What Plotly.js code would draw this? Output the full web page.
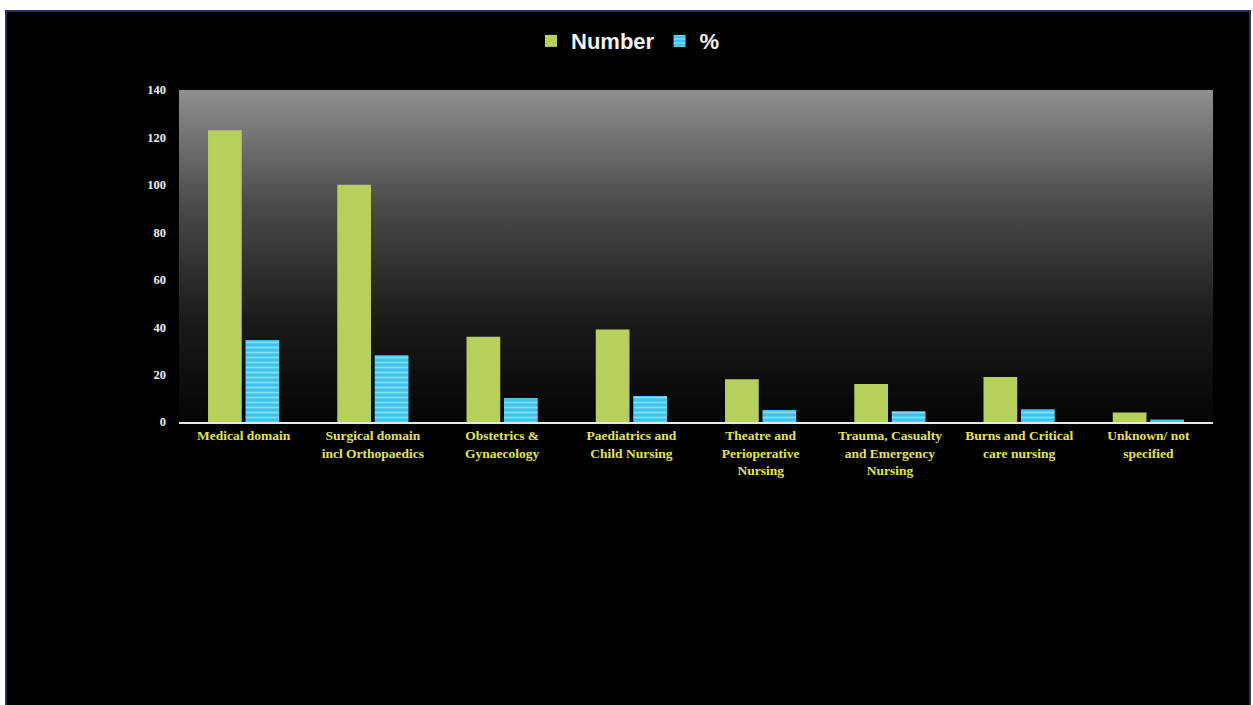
<!DOCTYPE html>
<html>
<head>
<meta charset="utf-8">
<script src="https://cdn.plot.ly/plotly-3.0.1.min.js"></script>
<style>
  html, body { margin: 0; padding: 0; background: #ffffff; width: 1253px; height: 705px; overflow: hidden; }
  #frame { position: absolute; left: 5px; top: 10px; width: 1246px; height: 695px; background: #000; box-sizing: border-box; border: 2px solid #27345e; border-bottom: none; }
  #chart { position: absolute; left: 0; top: 0; width: 1242px; height: 693px; }
</style>
</head>
<body>
<div id="frame"><div id="chart"></div></div>
<script>
const categories = [
  "Medical domain",
  "Surgical domain<br>incl Orthopaedics",
  "Obstetrics &<br>Gynaecology",
  "Paediatrics and<br>Child Nursing",
  "Theatre and<br>Perioperative<br>Nursing",
  "Trauma, Casualty<br>and Emergency<br>Nursing",
  "Burns and Critical<br>care nursing",
  "Unknown/ not<br>specified"
];
const numberValues = [123, 100, 36, 39, 18, 16, 19, 4];
const percentValues = [34.6, 28.2, 10.1, 11.0, 5.1, 4.5, 5.4, 1.1];
const yTicks = [0, 20, 40, 60, 80, 100, 120, 140];

const gradSvg = '<svg xmlns="http://www.w3.org/2000/svg" width="100" height="100" preserveAspectRatio="none">' +
  '<defs><linearGradient id="g" x1="0" y1="0" x2="0" y2="1">' +
  '<stop offset="0" stop-color="#8f8f8f"/>' +
  '<stop offset="0.35" stop-color="#4a4a4a"/>' +
  '<stop offset="0.7" stop-color="#1a1a1a"/>' +
  '<stop offset="1" stop-color="#050505"/>' +
  '</linearGradient></defs><rect x="0" y="0" width="100" height="100" fill="url(#g)"/></svg>';
const gradUri = 'data:image/svg+xml;charset=utf-8,' + encodeURIComponent(gradSvg);

const traces = [
  {
    type: 'bar', name: 'Number', x: categories, y: numberValues,
    marker: { color: '#b7cf5c', line: { width: 0 } },
    hoverinfo: 'x+y'
  },
  {
    type: 'bar', name: '%', x: categories, y: percentValues,
    marker: {
      color: '#3ec4ea', line: { width: 0 },
      pattern: { shape: '-', fgcolor: '#86def6', bgcolor: '#3ec4ea', size: 5, solidity: 0.35 }
    },
    hoverinfo: 'x+y'
  }
];

const layout = {
  width: 1242, height: 693,
  margin: { l: 172, r: 36, t: 78, b: 283 },
  paper_bgcolor: 'rgba(0,0,0,0)',
  plot_bgcolor: 'rgba(0,0,0,0)',
  barmode: 'group',
  bargap: 0.42,
  bargroupgap: 0.1,
  showlegend: true,
  legend: {
    orientation: 'h', xref: 'container', yref: 'container',
    x: 0.5, xanchor: 'center', y: 0.958, yanchor: 'middle',
    font: { family: 'Liberation Sans, Arial, sans-serif', size: 22, color: '#f2f2f2', weight: 'bold' },
    itemwidth: 30, traceorder: 'normal', bgcolor: 'rgba(0,0,0,0)'
  },
  xaxis: {
    type: 'category',
    showgrid: false, zeroline: false,
    showline: true, linecolor: '#e8e8e8', linewidth: 2,
    ticks: '', tickangle: 0,
    tickfont: { family: 'Liberation Serif, Times New Roman, serif', size: 13.5, color: '#e3e35c', weight: 'bold' }
  },
  yaxis: {
    range: [0, 140], tickvals: yTicks, ticktext: yTicks.map(String),
    showgrid: false, zeroline: false, showline: false, ticks: '',
    ticklabelstandoff: 12,
    tickfont: { family: 'Liberation Serif, Times New Roman, serif', size: 12.5, color: '#f0f0f0', weight: 'bold' }
  },
  images: [{
    source: gradUri, xref: 'paper', yref: 'paper', x: 0, y: 1, sizex: 1, sizey: 1,
    xanchor: 'left', yanchor: 'top', sizing: 'stretch', layer: 'below', opacity: 1
  }]
};

Plotly.newPlot('chart', traces, layout, { displayModeBar: false, staticPlot: true });
</script>
</body>
</html>
